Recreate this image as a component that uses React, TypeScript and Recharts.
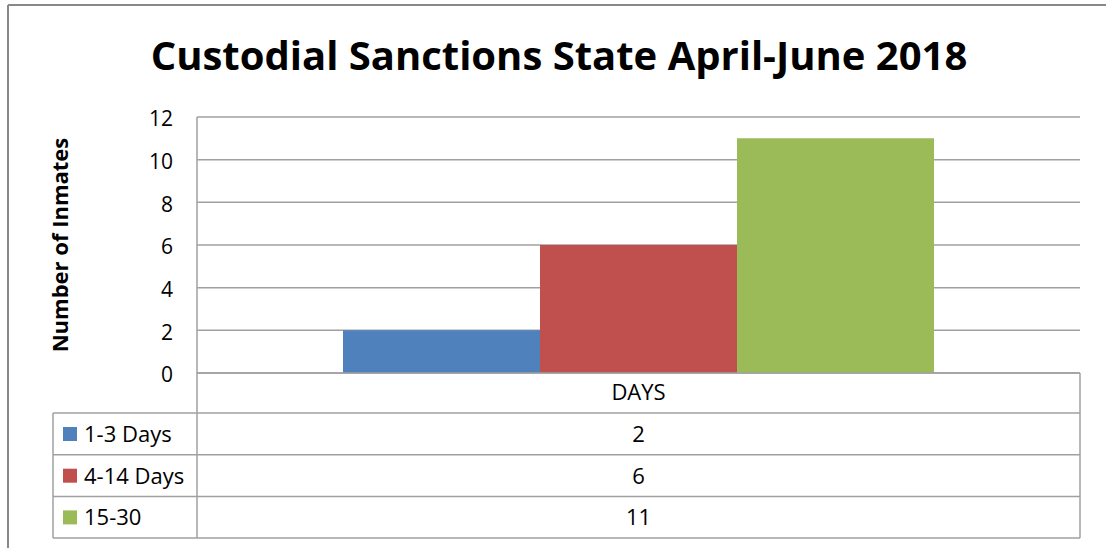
import { BarChart, Bar, XAxis, YAxis, CartesianGrid } from 'recharts';

const categories = ['DAYS'];
const seriesNames = ['1-3 Days', '4-14 Days', '15-30'];
const seriesValues = [2, 6, 11];
const seriesColors = ['#4F81BD', '#C0504D', '#9BBB59'];
const yTicks = [0, 2, 4, 6, 8, 10, 12];

const title = 'Custodial Sanctions State April-June 2018';
const yLabel = 'Number of Inmates';

const FONT = '"Open Sans", "Noto Sans", sans-serif';
const GRID = '#a0a0a0';

const chartData = categories.map((c) => {
    const row: Record<string, string | number> = { category: c };
    seriesNames.forEach((name, i) => {
        row[name] = seriesValues[i];
    });
    return row;
});

// plot area
const PLOT_LEFT = 197;
const PLOT_RIGHT = 1080;
const PLOT_TOP = 117;
const PLOT_BOTTOM = 373;
const ROW_H = 41.7;
const TABLE_LEFT = 53;

export default function App() {
    const rowTops = seriesNames.map((_, i) => PLOT_BOTTOM + 40 + i * ROW_H);
    const tableBottom = PLOT_BOTTOM + 40 + seriesNames.length * ROW_H;
    const valueCenter = (PLOT_LEFT + PLOT_RIGHT) / 2;

    return (
        <div style={{ position: 'absolute', left: 0, top: 0, width: 1106, height: 548, background: '#fff', fontFamily: FONT, overflow: 'hidden' }}>
            <BarChart
                width={1106}
                height={548}
                data={chartData}
                margin={{ top: PLOT_TOP, right: 1106 - PLOT_RIGHT, bottom: 548 - PLOT_BOTTOM - 40, left: PLOT_LEFT - 60 }}
                barCategoryGap={146}
                barGap={0}
            >
                <CartesianGrid vertical={false} stroke={GRID} strokeWidth={1.5} />
                <XAxis
                    dataKey="category"
                    height={40}
                    tickLine={false}
                    axisLine={{ stroke: GRID, strokeWidth: 1.5 }}
                    tick={{ fill: '#000', fontSize: 22, fontFamily: FONT }}
                    tickMargin={5}
                />
                <YAxis
                    width={60}
                    domain={[0, 12]}
                    ticks={yTicks}
                    interval={0}
                    tickLine={false}
                    axisLine={{ stroke: GRID, strokeWidth: 1.5 }}
                    tick={{ fill: '#000', fontSize: 21, fontFamily: FONT, dy: 2 }}
                    tickMargin={18}
                />
                {seriesNames.map((name, i) => (
                    <Bar key={name} dataKey={name} fill={seriesColors[i]} isAnimationActive={false} />
                ))}
            </BarChart>
            <svg width={1106} height={548} style={{ position: 'absolute', left: 0, top: 0, pointerEvents: 'none' }}>
                {/* outer frame */}
                <line x1={8} y1={5} x2={1106} y2={5} stroke="#888" strokeWidth={2} />
                <line x1={8} y1={5} x2={8} y2={548} stroke="#888" strokeWidth={2} />
                <text x={559} y={70} textAnchor="middle" fontSize={40} fontWeight="bold" fontFamily={FONT} fill="#000">
                    {title}
                </text>
                <text
                    transform={`translate(68, 245) rotate(-90)`}
                    textAnchor="middle"
                    fontSize={22}
                    fontWeight="bold"
                    fontFamily={FONT}
                    fill="#000"
                >
                    {yLabel}
                </text>
                {/* data table */}
                <line x1={PLOT_RIGHT} y1={PLOT_BOTTOM} x2={PLOT_RIGHT} y2={tableBottom} stroke={GRID} strokeWidth={1.5} />
                <line x1={PLOT_LEFT} y1={PLOT_BOTTOM} x2={PLOT_LEFT} y2={tableBottom} stroke={GRID} strokeWidth={1.5} />
                <line x1={TABLE_LEFT} y1={rowTops[0]} x2={TABLE_LEFT} y2={tableBottom} stroke={GRID} strokeWidth={1.5} />
                {rowTops.map((y) => (
                    <line key={y} x1={TABLE_LEFT} y1={y} x2={PLOT_RIGHT} y2={y} stroke={GRID} strokeWidth={1.5} />
                ))}
                <line x1={TABLE_LEFT} y1={tableBottom} x2={PLOT_RIGHT} y2={tableBottom} stroke={GRID} strokeWidth={1.5} />
                {seriesNames.map((name, i) => (
                    <g key={name}>
                        <rect x={63} y={rowTops[i] + 14} width={14} height={14} fill={seriesColors[i]} />
                        <text x={84} y={rowTops[i] + 29} fontSize={22} fontFamily={FONT} fill="#000">
                            {name}
                        </text>
                        <text x={valueCenter} y={rowTops[i] + 29} textAnchor="middle" fontSize={22} fontFamily={FONT} fill="#000">
                            {seriesValues[i]}
                        </text>
                    </g>
                ))}
            </svg>
        </div>
    );
}
